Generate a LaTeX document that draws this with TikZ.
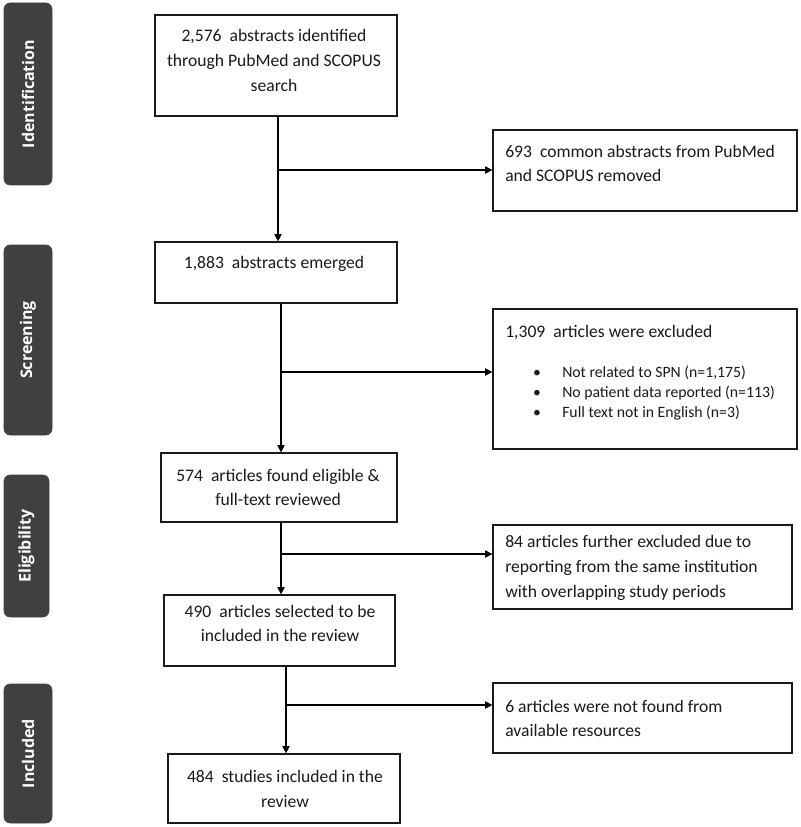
\documentclass[tikz,border=0pt]{standalone}
\usepackage{fontspec}
\setmainfont{Carlito}
\newfontfamily\lblfont{Open Sans}
\usetikzlibrary{arrows.meta,fit}
\definecolor{lbl}{HTML}{404040}
\definecolor{ink}{HTML}{1A1A1A}
\begin{document}
\begin{tikzpicture}[x=0.75pt,y=-0.75pt,
  box/.style={draw=ink, line width=0.9pt, inner sep=0pt},
  phase/.style={fill=lbl, draw=lbl, rounded corners=4.5pt, inner sep=0pt},
  phasetxt/.style={text=white, font=\lblfont\bfseries\fontsize{12}{14}\selectfont, rotate=90, inner sep=0pt},
  cline/.style={text=ink, font=\fontsize{13.2}{18.5}\selectfont, inner sep=0pt, anchor=base},
  lline/.style={text=ink, font=\fontsize{13.2}{18.5}\selectfont, inner sep=0pt, anchor=base west},
  bline/.style={text=ink, font=\fontsize{11.8}{15}\selectfont, inner sep=0pt, anchor=base west},
  bdot/.style={text=ink, font=\fontsize{11.8}{15}\selectfont, inner sep=0pt, anchor=base},
  line/.style={draw=black, line width=0.9pt},
  arr/.style={line, -{Triangle[length=5.5pt,width=5.5pt]}}]

\path[fill=white, use as bounding box] (0,0) rectangle (800,827);

% phase labels
\node[phase, fit={(4,3) (52,185)}] (ph1) {};
\node[phasetxt] (ph1t) at (ph1.center) {Identification};
\node[phase, fit={(4,245) (52,435)}] (ph2) {};
\node[phasetxt] (ph2t) at (ph2.center) {Screening};
\node[phase, fit={(4,475) (49,617)}] (ph3) {};
\node[phasetxt] (ph3t) at (ph3.center) {Eligibility};
\node[phase, fit={(4,684) (52,823)}] (ph4) {};
\node[phasetxt] (ph4t) at (ph4.center) {Included};

% main boxes
\node[box, fit={(155,15) (397,116)}] (b1) {};
\node[cline] (b1a) at (274,42) {2,576\ \ abstracts identified};
\node[cline] (b1b) at (274,67) {through PubMed and SCOPUS};
\node[cline] (b1c) at (274,92) {search};

\node[box, fit={(155,242) (397,303)}] (b2) {};
\node[cline] (b2a) at (274,268) {1,883\ \ abstracts emerged};

\node[box, fit={(161,453) (397,522)}] (b3) {};
\node[cline] (b3a) at (278,481) {574\ \ articles found eligible \&};
\node[cline] (b3b) at (278,505) {full-text reviewed};

\node[box, fit={(164,595) (395,666)}] (b4) {};
\node[cline] (b4a) at (280,617) {490\ \ articles selected to be};
\node[cline] (b4b) at (280,641) {included in the review};

\node[box, fit={(168,754) (400,823)}] (b5) {};
\node[cline] (b5a) at (285,782) {484\ \ studies included in the};
\node[cline] (b5b) at (285,807) {review};

% side boxes
\node[box, fit={(493,130) (797,211)}] (r1) {};
\node[lline] (r1a) at (505,158) {693\ \ common abstracts from PubMed};
\node[lline] (r1b) at (505,182) {and SCOPUS removed};

\node[box, fit={(493,309) (797,449)}] (r2) {};
\node[lline] (r2a) at (505,337) {1,309\ \ articles were excluded};
\node[bdot] (r2d1) at (537,377) {\textbullet};
\node[bline] (r2b) at (562,377) {Not related to SPN (n=1,175)};
\node[bdot] (r2d2) at (537,397) {\textbullet};
\node[bline] (r2c) at (562,397) {No patient data reported (n=113)};
\node[bdot] (r2d3) at (537,417) {\textbullet};
\node[bline] (r2e) at (562,417) {Full text not in English (n=3)};

\node[box, fit={(493,525) (792,609)}] (r3) {};
\node[lline] (r3a) at (505,547) {84 articles further excluded due to};
\node[lline] (r3b) at (505,572) {reporting from the same institution};
\node[lline] (r3c) at (505,597) {with overlapping study periods};

\node[box, fit={(493,683) (792,753)}] (r4) {};
\node[lline] (r4a) at (505,712) {6 articles were not found from};
\node[lline] (r4b) at (505,736) {available resources};

% junctions
\coordinate (j1) at (278,170);
\coordinate (j2) at (281,372);
\coordinate (j3) at (281,554);
\coordinate (j4) at (286,705);

\draw[arr] (b1.south -| j1) -- (b2.north -| j1);
\draw[arr] (j1) -- (r1.west |- j1);
\draw[arr] (b2.south -| j2) -- (b3.north -| j2);
\draw[arr] (j2) -- (r2.west |- j2);
\draw[arr] (b3.south -| j3) -- (b4.north -| j3);
\draw[arr] (j3) -- (r3.west |- j3);
\draw[arr] (b4.south -| j4) -- (b5.north -| j4);
\draw[arr] (j4) -- (r4.west |- j4);
\end{tikzpicture}
\end{document}
